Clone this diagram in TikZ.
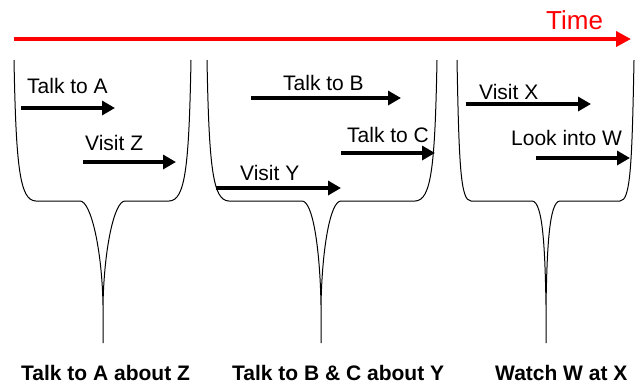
\documentclass[tikz,border=0pt]{standalone}
\usepackage{fontspec}
\setmainfont{Liberation Sans}
\usetikzlibrary{arrows.meta}
\begin{document}
\begin{tikzpicture}[x=1bp,y=-1bp,
      bucket/.style={draw=black,line width=1bp},
      act/.style={line width=4bp,-{Triangle[length=13bp,width=14bp]}},
      timeline/.style={red,line width=4bp,-{Triangle[length=15bp,width=15bp]}},
      lbl/.style={anchor=base west,inner sep=0pt,font=\fontsize{21bp}{25bp}\selectfont},
      goal/.style={lbl,font=\fontsize{21bp}{25bp}\selectfont\bfseries}]
      \useasboundingbox (0,0) rectangle (638,387);
      % time axis
      \coordinate (t0) at (14,39);
      \coordinate (t1) at (631,39);
      \draw[timeline] (t0)--(t1);
      \node[lbl,text=red,font=\fontsize{26bp}{30bp}\selectfont] (time) at (546,29) {Time};
      % buckets
      \foreach \xl/\nl/\xt/\nr/\xr/\rc in {14/80/103/125/191/22,207/302/321/341/437/22,457/532/546/560/634/14}
       \draw[bucket] (\xl,60) .. controls (\xl+2,165) and (\xl+\rc/4,201) .. (\xl+\rc,201)
        -- (\nl,201) .. controls (\nl+11,201) and (\xt-1,250) .. (\xt,305) -- (\xt,343)
        (\xt,305) .. controls (\xt+1,250) and (\nr-11,201) .. (\nr,201)
        -- (\xr-\rc,201) .. controls (\xr-\rc/4,201) and (\xr-2,165) .. (\xr,60);
      % steps
      \node[lbl] (talkA) at (27,93) {Talk to A};
      \node[lbl] (visitZ) at (85,150) {Visit Z};
      \node[lbl] (talkB) at (283,90) {Talk to B};
      \node[lbl] (talkC) at (347,142) {Talk to C};
      \node[lbl] (visitY) at (240,180) {Visit Y};
      \node[lbl] (visitX) at (479,99) {Visit X};
      \node[lbl] (lookW) at (511,145) {Look into W};
      \foreach \n/\xa/\xb/\y in {a/21/115/108,z/83/176/162,b/251/401/98,c/341/435/153,
        y/216/341/188,x/466/591/104,w/536/630/158} {
       \coordinate (\n0) at (\xa,\y);
       \coordinate (\n1) at (\xb,\y);
       \draw[act] (\n0)--(\n1);
      }
      % goals
      \node[goal] (goalA) at (21,380) {Talk to A about Z};
      \node[goal] (goalBC) at (232,380) {Talk to B \& C about Y};
      \node[goal] (goalX) at (495,380) {Watch W at X};
\end{tikzpicture}
\end{document}
